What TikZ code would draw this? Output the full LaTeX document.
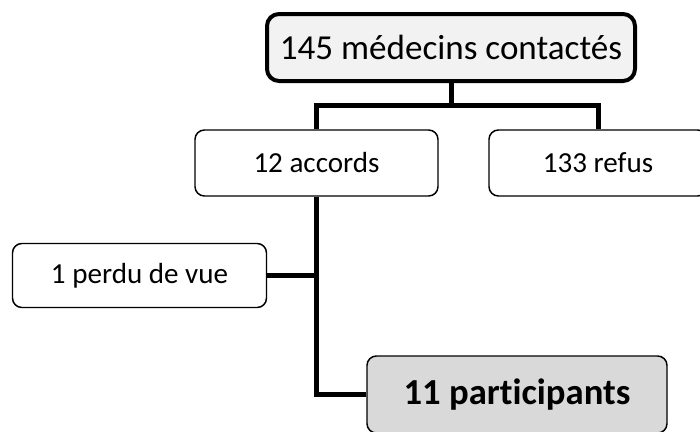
\documentclass[tikz,border=0pt]{standalone}
\usepackage{fontspec}
\setmainfont[Ligatures=NoCommon]{Carlito}
\tikzset{
  box/.style={draw, rounded corners=7pt, line width=1.1pt, inner sep=0pt,
    align=center, font=\fontsize{21.8}{24}\selectfont},
  link/.style={line width=3.75pt}
}
\begin{document}
\begin{tikzpicture}[x=0.75pt,y=-0.75pt]
        \useasboundingbox (0,0) rectangle (700,432);
        \clip (0,0) rectangle (700,432);
        \begin{scope}
            \node[box, line width=3pt, rounded corners=9pt, fill=gray!10,
                minimum width=276pt, minimum height=50.25pt,
                font=\fontsize{26.3}{30}\selectfont] (contactes) at (451,47.5) {145 médecins contactés};
            \node[box, minimum width=182.25pt, minimum height=49.5pt] (accords) at (316.5,163) {12 accords};
            \node[box, minimum width=163.5pt, minimum height=49.5pt] (refus) at (598,163) {133 refus};
            \node[box, minimum width=190.5pt, minimum height=48pt] (perdu) at (139.5,275.5) {1 perdu de vue};
            \node[box, fill=gray!30, minimum width=225pt, minimum height=57.75pt,
                font=\bfseries\fontsize{27.5}{32}\selectfont] (participants) at (517,394.5) {11 participants};
            \coordinate (split) at (451,105);
            \draw[link] (contactes.south) -- (split);
            \draw[link] (accords.north) |- (split) -| (refus.north);
            \draw[link] (accords.south) |- (participants.west);
            \draw[link] (perdu.east) -- (perdu.east -| accords.south);
        \end{scope}
\end{tikzpicture}
\end{document}
